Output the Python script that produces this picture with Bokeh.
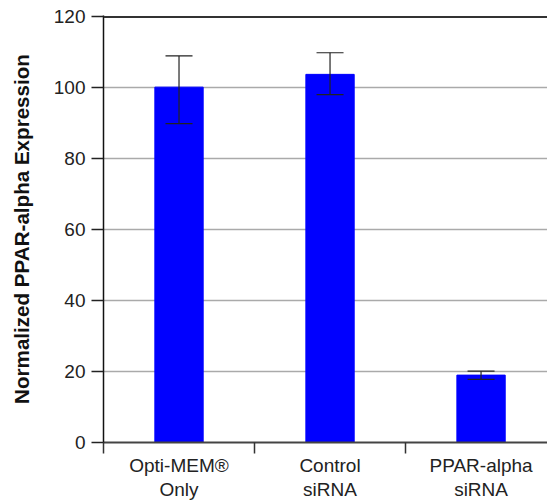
from bokeh.plotting import figure
from bokeh.models import (Range1d, FixedTicker, ColumnDataSource, Whisker, TeeHead, Span)
from bokeh.embed import file_html
from bokeh.resources import INLINE

# ---- data ----
categories = ["Opti-MEM®\nOnly", "Control\nsiRNA", "PPAR-alpha\nsiRNA"]
values = [100.2, 103.8, 19.0]
err_upper = [109.0, 109.9, 20.1]
err_lower = [89.9, 98.1, 17.8]
y_ticks = [0, 20, 40, 60, 80, 100, 120]

n = len(categories)
centers = [i + 0.5 for i in range(n)]
bounds = [float(i) for i in range(n + 1)]

FONT = "Liberation Sans"

p = figure(width=547, height=502, output_backend="svg", toolbar_location=None,
           x_range=Range1d(0, 2.94), y_range=Range1d(0, 120.4),
           min_border_left=103, min_border_right=0, min_border_top=15, min_border_bottom=59)
p.outline_line_color = None
p.background_fill_color = "white"
p.border_fill_color = "white"

# bars
p.vbar(x=centers, top=values, bottom=0, width=0.32,
       fill_color="#0000ff", line_color="#0000ff", line_width=1)

# error bars
src = ColumnDataSource(dict(x=centers, upper=err_upper, lower=err_lower))
wh = Whisker(source=src, base="x", upper="upper", lower="lower", dimension="height",
             line_color="#222222", line_width=1.2, level="overlay",
             upper_head=TeeHead(size=27, line_color="#222222", line_width=1.2),
             lower_head=TeeHead(size=27, line_color="#222222", line_width=1.2))
p.add_layout(wh)

# top border line
p.add_layout(Span(location=120, dimension="width", line_color="#333333", line_width=2))

# x axis
xa = p.xaxis[0]
xa.ticker = FixedTicker(ticks=centers, minor_ticks=bounds)
xa.major_label_overrides = {c: lab for c, lab in zip(centers, categories)}
xa.major_tick_out = 0
xa.major_tick_in = 0
xa.minor_tick_out = 11
xa.minor_tick_in = 0
xa.minor_tick_line_color = "#333333"
xa.minor_tick_line_width = 1.5
xa.axis_line_color = "#444444"
xa.axis_line_width = 2
xa.major_label_text_font = FONT
xa.major_label_text_font_size = "19px"
xa.major_label_text_color = "#222222"
xa.major_label_text_line_height = 1.15
xa.major_label_standoff = 1

# y axis
ya = p.yaxis[0]
ya.ticker = FixedTicker(ticks=y_ticks)
ya.minor_tick_line_color = None
ya.major_tick_out = 12
ya.major_tick_in = 0
ya.major_tick_line_color = "#222222"
ya.major_tick_line_width = 1.5
ya.axis_line_color = "#111111"
ya.axis_line_width = 1.5
ya.major_label_text_font = FONT
ya.major_label_text_font_size = "19px"
ya.major_label_text_color = "#222222"
ya.major_label_standoff = 6
ya.axis_label = "Normalized PPAR-alpha Expression"
ya.axis_label_text_font = FONT
ya.axis_label_text_font_style = "bold"
ya.axis_label_text_font_size = "20.6px"
ya.axis_label_text_color = "#111111"
ya.axis_label_standoff = 18

p.xgrid.grid_line_color = None
p.ygrid.ticker = FixedTicker(ticks=y_ticks[1:-1])
p.ygrid.grid_line_color = "#aaaaaa"
p.ygrid.grid_line_width = 1.5

open("out.html", "w").write(file_html(p, INLINE))
